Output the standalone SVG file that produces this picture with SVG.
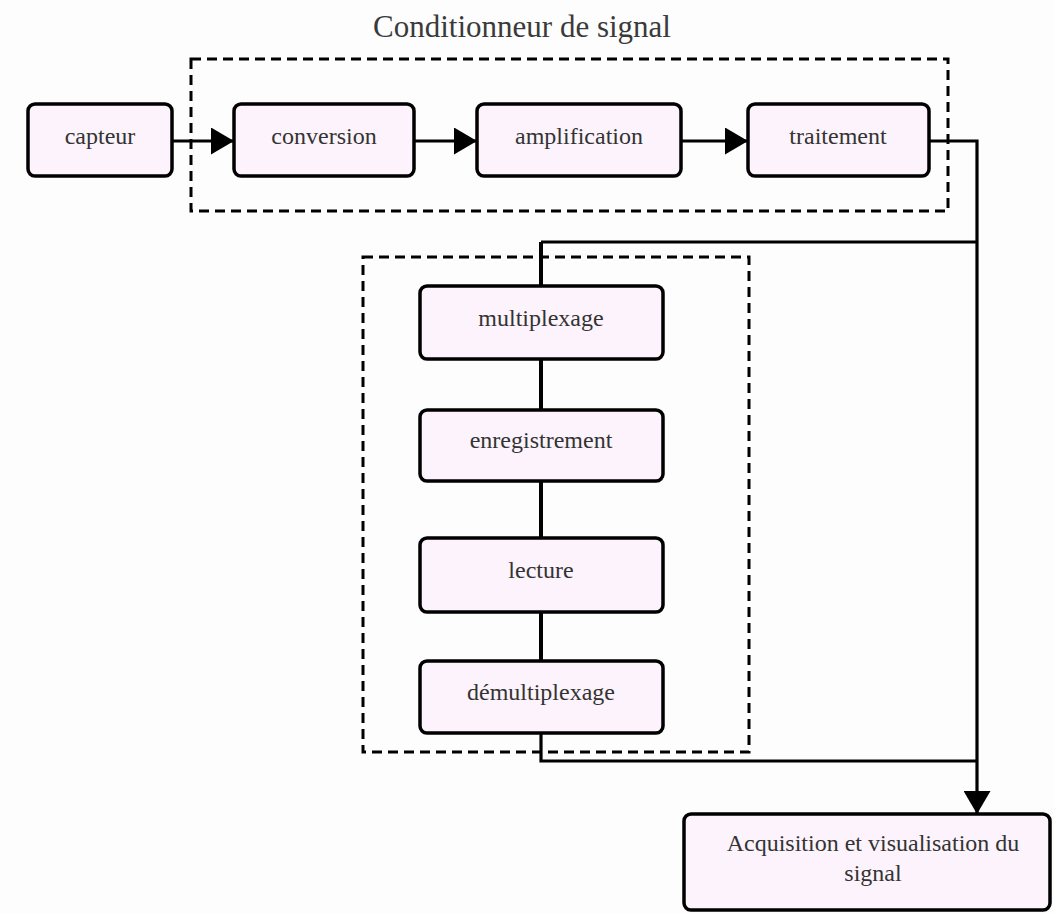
<svg xmlns="http://www.w3.org/2000/svg" width="1054" height="913" viewBox="0 0 1054 913">
<style>
.node rect{fill:#fdf3fc;stroke:#000;stroke-width:3.5}
.node text,.title{font-family:"Liberation Serif","Times New Roman",serif;fill:#333;text-anchor:middle}
.node text{font-size:24px}
.title{font-size:31px;fill:#3a3a3a}
.group{fill:none;stroke:#000;stroke-width:3;stroke-dasharray:10 6}
.conn{fill:none;stroke:#000;stroke-width:3.2}
.thick{stroke-width:4}
</style>
<defs>
<marker id="ah" viewBox="0 0 23 27" refX="23" refY="13.5" markerWidth="23" markerHeight="27" markerUnits="userSpaceOnUse" orient="auto">
<path d="M0,0 L23,13.5 L0,27 Z" fill="#000"/>
</marker>
</defs>
<rect x="0" y="0" width="1054" height="913" fill="#fdfdfd"/>
<text class="title" x="522" y="37">Conditionneur de signal</text>
<g id="groups">
<rect class="group" x="191" y="59" width="757" height="152"/>
<rect class="group" x="363" y="257" width="386" height="495"/>
</g>
<g id="connectors">
<line class="conn" x1="172" y1="141" x2="234" y2="141" marker-end="url(#ah)"/>
<line class="conn" x1="414" y1="141" x2="477" y2="141" marker-end="url(#ah)"/>
<line class="conn" x1="681" y1="141" x2="748" y2="141" marker-end="url(#ah)"/>
<polyline class="conn" points="929,141 977,141 977,814" marker-end="url(#ah)"/>
<polyline class="conn" points="977,242 541,242"/>
<line class="conn thick" x1="541" y1="242" x2="541" y2="286"/>
<line class="conn thick" x1="541" y1="359" x2="541" y2="410"/>
<line class="conn thick" x1="541" y1="481" x2="541" y2="538"/>
<line class="conn thick" x1="541" y1="612" x2="541" y2="661"/>
<polyline class="conn" points="541,733 541,761 977,761"/>
</g>
<g id="capteur" class="node"><rect x="28" y="104" width="144" height="72" rx="7"/><text x="100" y="144">capteur</text></g>
<g id="conversion" class="node"><rect x="234" y="104" width="180" height="72" rx="7"/><text x="324" y="144">conversion</text></g>
<g id="amplification" class="node"><rect x="477" y="104" width="204" height="72" rx="7"/><text x="579" y="144">amplification</text></g>
<g id="traitement" class="node"><rect x="748" y="104" width="181" height="72" rx="7"/><text x="838" y="144">traitement</text></g>
<g id="multiplexage" class="node"><rect x="420" y="286" width="243" height="73" rx="7"/><text x="541" y="326">multiplexage</text></g>
<g id="enregistrement" class="node"><rect x="420" y="410" width="243" height="71" rx="7"/><text x="541" y="448">enregistrement</text></g>
<g id="lecture" class="node"><rect x="420" y="538" width="243" height="74" rx="7"/><text x="541" y="578">lecture</text></g>
<g id="demultiplexage" class="node"><rect x="420" y="661" width="243" height="72" rx="7"/><text x="541" y="700">démultiplexage</text></g>
<g id="acquisition" class="node"><rect x="684" y="814" width="366" height="96" rx="7"/><text x="873" y="851">Acquisition et visualisation du</text><text x="873" y="881">signal</text></g>
</svg>
